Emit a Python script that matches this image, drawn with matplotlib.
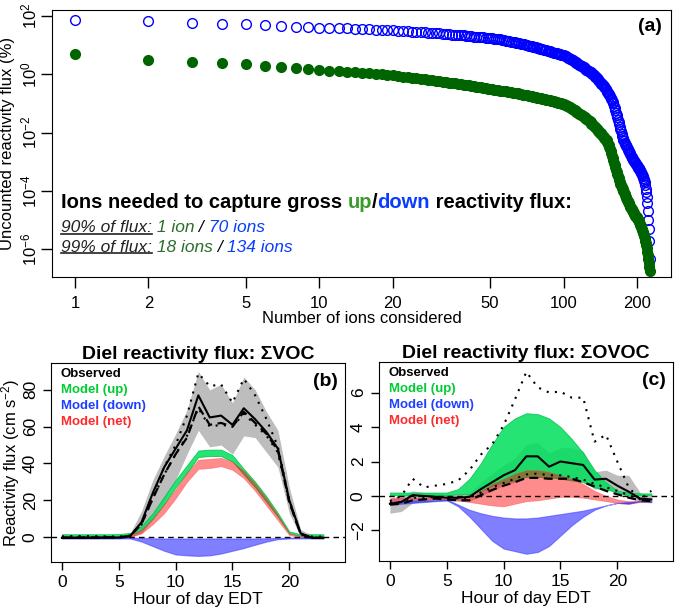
import numpy as np
import matplotlib
matplotlib.use('Agg')
import matplotlib.pyplot as plt
from matplotlib.lines import Line2D

plt.rcParams['font.family'] = ['Liberation Sans', 'DejaVu Sans']
plt.rcParams['mathtext.fontset'] = 'custom'
plt.rcParams['mathtext.rm'] = 'Liberation Sans'
plt.rcParams['mathtext.default'] = 'regular'

# ---- panel (a): uncounted flux (log10 of %) vs number of ions ----
up_log10_pct = [
    0.68, 0.47, 0.42, 0.37, 0.34, 0.28, 0.25, 0.20, 0.17, 0.15,
    0.12, 0.10, 0.08, 0.06, 0.04, 0.03, 0.01, 0.00, -0.02, -0.04,
    -0.06, -0.08, -0.10, -0.12, -0.14, -0.16, -0.18, -0.19, -0.21, -0.23,
    -0.24, -0.26, -0.27, -0.29, -0.30, -0.31, -0.33, -0.34, -0.36, -0.37,
    -0.38, -0.40, -0.41, -0.43, -0.44, -0.45, -0.47, -0.48, -0.50, -0.51,
    -0.52, -0.53, -0.54, -0.55, -0.56, -0.57, -0.58, -0.59, -0.60, -0.61,
    -0.62, -0.63, -0.64, -0.65, -0.66, -0.67, -0.68, -0.70, -0.71, -0.72,
    -0.73, -0.74, -0.75, -0.76, -0.77, -0.78, -0.79, -0.80, -0.81, -0.82,
    -0.83, -0.84, -0.85, -0.86, -0.87, -0.88, -0.89, -0.90, -0.91, -0.92,
    -0.93, -0.94, -0.95, -0.96, -0.97, -0.98, -0.99, -1.00, -1.01, -1.02,
    -1.04, -1.06, -1.08, -1.10, -1.12, -1.14, -1.16, -1.18, -1.20, -1.22,
    -1.24, -1.26, -1.28, -1.31, -1.33, -1.35, -1.37, -1.39, -1.41, -1.43,
    -1.46, -1.48, -1.50, -1.52, -1.55, -1.57, -1.60, -1.62, -1.65, -1.69,
    -1.72, -1.74, -1.77, -1.80, -1.82, -1.85, -1.88, -1.91, -1.94, -1.97,
    -2.00, -2.03, -2.06, -2.09, -2.12, -2.15, -2.18, -2.21, -2.24, -2.27,
    -2.32, -2.38, -2.44, -2.50, -2.57, -2.64, -2.71, -2.79, -2.87, -2.95,
    -3.03, -3.11, -3.19, -3.27, -3.35, -3.43, -3.50, -3.57, -3.63, -3.69,
    -3.75, -3.80, -3.85, -3.90, -3.95, -4.00,
    -4.05, -4.10, -4.15, -4.20, -4.25, -4.30, -4.34, -4.38, -4.42, -4.46,
    -4.50, -4.54, -4.58, -4.62, -4.66, -4.70, -4.73, -4.76, -4.79, -4.82,
    -4.85, -4.88,
    -4.91, -4.94, -4.97, -5.00, -5.04, -5.08, -5.12, -5.16, -5.20, -5.25,
    -5.30, -5.35, -5.40, -5.45, -5.50, -5.56, -5.62, -5.70, -5.78, -5.87,
    -5.97, -6.08, -6.20, -6.33, -6.47, -6.60, -6.75,
]
down_log10_pct = [
    1.86, 1.82, 1.76, 1.73, 1.71, 1.68, 1.66, 1.63, 1.62, 1.60,
    1.59, 1.58, 1.57, 1.56, 1.55, 1.54, 1.53, 1.52, 1.51, 1.50,
    1.49, 1.48, 1.47, 1.46, 1.45, 1.44, 1.43, 1.42, 1.42, 1.41,
    1.40, 1.39, 1.38, 1.37, 1.36, 1.35, 1.35, 1.34, 1.33, 1.32,
    1.31, 1.30, 1.29, 1.28, 1.28, 1.27, 1.26, 1.25, 1.25, 1.24,
    1.23, 1.22, 1.21, 1.20, 1.19, 1.18, 1.16, 1.15, 1.14, 1.13,
    1.12, 1.11, 1.09, 1.08, 1.07, 1.06, 1.04, 1.03, 1.02, 1.00,
    0.99, 0.98, 0.96, 0.95, 0.94, 0.93, 0.92, 0.90, 0.89, 0.88,
    0.87, 0.86, 0.84, 0.83, 0.82, 0.81, 0.80, 0.78, 0.77, 0.76,
    0.74, 0.73, 0.72, 0.71, 0.70, 0.69, 0.68, 0.67, 0.66, 0.65,
    0.63, 0.61, 0.59, 0.57, 0.55, 0.53, 0.51, 0.49, 0.47, 0.45,
    0.43, 0.41, 0.39, 0.37, 0.35, 0.33, 0.31, 0.29, 0.27, 0.25,
    0.23, 0.21, 0.19, 0.16, 0.14, 0.12, 0.10, 0.08, 0.06, 0.04,
    0.02, 0.00, -0.03, -0.05,
    -0.08, -0.11, -0.14, -0.17, -0.20, -0.23, -0.26, -0.29, -0.32, -0.35,
    -0.38, -0.41, -0.44, -0.48, -0.52, -0.56, -0.60, -0.64, -0.68, -0.72,
    -0.76, -0.80, -0.85, -0.90, -0.95, -1.00,
    -1.08, -1.16, -1.24, -1.32, -1.40, -1.48, -1.56, -1.64, -1.72, -1.80,
    -1.88, -1.96, -2.04, -2.12, -2.19, -2.25, -2.30, -2.35,
    -2.39, -2.43, -2.47, -2.51, -2.55, -2.59, -2.63, -2.67, -2.71, -2.75,
    -2.79, -2.83, -2.87, -2.90, -2.93, -2.96, -2.99, -3.02, -3.05, -3.08,
    -3.11, -3.14, -3.17, -3.20, -3.23, -3.26, -3.29, -3.32, -3.35, -3.38,
    -3.42, -3.46, -3.50, -3.55, -3.60, -3.65, -3.70,
    -3.80, -3.92, -4.05, -4.20, -4.40, -4.70, -5.00, -5.30, -5.70, -6.33,
]
a_xticks = [1, 2, 5, 10, 20, 50, 100, 200]
a_yticks = [2, 0, -2, -4, -6]

# ---- panels (b) and (c): diel reactivity flux ----
hours = list(range(24))

# (b) sum VOC
b_obs_solid = [-0.5, -0.5, -0.4, -0.4, -0.3, -0.3, 0.5, 8, 24, 38, 48, 58,
               77, 65, 66, 61, 70, 64, 57, 48, 20, 2, -0.5, -0.5]
b_obs_dot = [0.3, 0.5, 0.5, 0.4, 0.3, 0.2, 0.8, 7, 23, 38, 50, 66,
             89, 82, 83, 73, 86, 77, 64, 49, 20, 1.5, 0.2, 0.2]
b_obs_dash = [-0.3, -0.3, -0.3, -0.3, -0.2, -0.2, 0.5, 7, 21, 34, 45, 54,
              71, 61, 62, 60, 68, 62, 56, 47, 19, 1.5, -0.5, -0.5]
b_obs_dot2 = [-0.3, -0.3, -0.3, -0.3, -0.2, -0.2, 0.5, 7, 21, 34, 45, 55,
              70, 60, 61, 60, 67, 61, 55, 46, 19, 1.5, -0.5, -0.5]
b_gray_lo = [-1, -1, -1, -1, -1, -1, 0, 2, 10, 20, 31, 45,
             58, 49, 50, 45, 55, 54, 46, 38, 13, 0, -1, -1]
b_gray_hi = [1, 1, 1, 1, 1, 1, 2, 14, 31, 44, 56, 69,
             90, 80, 83, 73, 87, 80, 68, 58, 27, 4, 1, 1]
b_up_lo = [0.5, 0.5, 0.5, 0.5, 0.5, 0.6, 1.0, 4, 10, 18, 27, 35,
           43.5, 44, 44, 41, 34, 27, 19, 11, 2, 0.6, 0.5, 0.5]
b_up_hi = [1.5, 1.5, 1.5, 1.5, 1.5, 1.6, 2.2, 6, 13, 22, 31, 39,
           47, 47.5, 47.5, 44.5, 37, 30, 22, 13, 3, 1.5, 1.5, 1.5]
b_net_lo = [-0.3, -0.3, -0.3, -0.3, -0.3, -0.3, 0, 2, 7, 13, 21, 30,
            37, 37.5, 38.5, 36.5, 32, 25, 17, 9, 1, 0, -0.3, -0.3]
b_net_hi = [0.3, 0.3, 0.3, 0.3, 0.3, 0.3, 1, 4, 10, 18, 26, 35,
            42, 42.5, 43, 41, 36, 29, 21, 12, 2, 0.5, 0.3, 0.3]
b_down_lo = [-0.8, -0.8, -0.8, -0.8, -0.8, -0.8, -0.8, -2.5, -5, -7.5, -9.5, -10,
             -10.3, -10, -9, -7.5, -6, -4.2, -2.5, -1.2, -0.8, -0.8, -0.8, -0.8]
b_down_hi = [-0.3, -0.3, -0.3, -0.3, -0.3, -0.3, -0.3, -0.5, -0.7, -0.8, -0.8, -0.8,
             -0.8, -0.8, -0.8, -0.8, -0.8, -0.8, -0.7, -0.5, -0.3, -0.3, -0.3, -0.3]

# (c) sum OVOC
c_obs_solid = [-0.45, -0.35, 0.05, 0.0, -0.05, -0.1, -0.1, -0.05, 0.4, 0.8, 1.2, 1.5,
               2.3, 2.3, 1.7, 2.0, 1.9, 1.8, 0.95, 1.0, 0.6, 0.25, -0.15, -0.2]
c_obs_dot = [-0.3, 0.0, 1.0, 0.5, 0.6, 0.7, 0.9, 1.5, 2.4, 3.0, 4.1, 5.6,
             7.2, 6.3, 6.0, 6.05, 5.7, 5.7, 3.15, 3.55, 2.0, 0.5, -0.2, 0.3]
c_obs_dash = [-0.5, -0.45, -0.25, -0.2, -0.15, -0.2, -0.25, -0.25, 0.05, 0.35, 0.6, 0.8,
              1.05, 1.05, 1.0, 1.0, 1.0, 0.8, 0.55, 0.3, 0.1, -0.1, -0.25, -0.3]
c_obs_dot2 = [-0.4, -0.35, -0.1, -0.1, -0.05, -0.1, -0.15, -0.1, 0.2, 0.5, 0.75, 1.0,
              1.25, 1.3, 1.2, 1.2, 1.1, 0.95, 0.7, 0.5, 0.3, 0.05, -0.2, -0.25]
c_gray_lo = [-1.0, -0.9, -0.4, -0.35, -0.3, -0.3, -0.3, -0.3, 0.0, 0.3, 0.6, 0.8,
             1.2, 1.3, 1.0, 1.1, 1.0, 0.9, 0.4, 0.4, 0.2, -0.1, -0.35, -0.4]
c_gray_hi = [-0.1, 0.0, 0.3, 0.2, 0.15, 0.1, 0.1, 0.2, 0.8, 1.3, 1.8, 2.2,
             3.0, 3.1, 2.5, 2.8, 2.8, 2.6, 1.4, 1.5, 1.2, 1.2, 0.2, 0.0]
c_up_lo = [0.05, 0.05, 0.05, 0.05, 0.05, 0.05, 0.1, 0.1, 0.3, 0.6, 0.8, 0.9,
           1.1, 1.1, 1.1, 1.0, 0.9, 0.8, 0.5, 0.4, 0.2, 0.05, 0.05, 0.05]
c_up_hi = [0.2, 0.2, 0.2, 0.2, 0.2, 0.2, 0.4, 1.0, 1.9, 3.0, 4.0, 4.5,
           4.8, 4.75, 4.5, 4.0, 3.3, 2.5, 1.5, 0.8, 0.3, 0.2, 0.15, 0.15]
c_net_lo = [-0.3, -0.3, -0.2, -0.2, -0.2, -0.2, -0.25, -0.35, -0.45, -0.55, -0.6, -0.45,
            -0.3, -0.25, -0.15, -0.05, -0.05, -0.1, -0.2, -0.3, -0.4, -0.45, -0.35, -0.3]
c_net_hi = [-0.15, -0.1, -0.1, -0.1, -0.1, -0.15, -0.15, -0.1, 0.3, 0.7, 1.0, 1.3,
            1.5, 1.5, 1.4, 1.2, 1.0, 0.7, 0.3, 0.0, -0.2, -0.3, -0.3, -0.25]
c_down_lo = [-0.5, -0.45, -0.4, -0.35, -0.3, -0.25, -0.6, -1.2, -1.9, -2.6, -3.05, -3.2,
             -3.35, -3.25, -2.9, -2.3, -1.7, -1.2, -0.8, -0.55, -0.4, -0.45, -0.3, -0.35]
c_down_hi = [-0.35, -0.3, -0.25, -0.25, -0.25, -0.2, -0.5, -0.8, -1.0, -1.15, -1.25, -1.3,
             -1.3, -1.25, -1.15, -1.05, -0.95, -0.85, -0.7, -0.55, -0.4, -0.35, -0.3, -0.3]

legend_labels = ['Observed', 'Model (up)', 'Model (down)', 'Model (net)']
legend_colors = ['black', '#00cc33', '#1f3fff', '#ff2a2a']

W, H = 675, 610
fig = plt.figure(figsize=(W / 100, H / 100), dpi=100)


def box(l, t, r, b):
    return [l / W, 1 - b / H, (r - l) / W, (b - t) / H]


# ================= panel (a) =================
ax = fig.add_axes(box(52, 10, 671, 277))
n_up = np.arange(1, len(up_log10_pct) + 1)
n_down = np.arange(1, len(down_log10_pct) + 1)
ax.plot(n_down, 10 ** np.array(down_log10_pct), 'o', ms=7, mfc='none',
        mec='#0000ff', mew=1.0, ls='none')
ax.plot(n_up, 10 ** np.array(up_log10_pct), 'o', ms=7, mfc='#006400',
        mec='#006400', ls='none')
ax.set_xscale('log')
ax.set_yscale('log')
ax.set_xlim(10 ** -0.094, 10 ** 2.44)
ax.set_ylim(10 ** -6.95, 10 ** 2.2)
ax.set_xticks(a_xticks)
ax.set_xticklabels([str(v) for v in a_xticks])
ax.set_yticks([10.0 ** e for e in a_yticks])
ax.set_yticklabels(['$10^{%d}$' % e for e in a_yticks])
ax.minorticks_off()
ax.tick_params(axis='both', direction='out', length=8, width=1, labelsize=12)
ax.tick_params(axis='x', pad=6)
ax.tick_params(axis='y', pad=1)
for lab in ax.get_yticklabels():
    lab.set_rotation(90)
    lab.set_va('center')
ax.set_xlabel('Number of ions considered', fontsize=12, labelpad=0)
ax.set_ylabel('Uncounted reactivity flux (%)', fontsize=12)
ax.yaxis.set_label_coords((15 - 52) / 619, 0.5)
ax.text(0.985, 0.94, '(a)', transform=ax.transAxes, ha='right', va='center',
        fontsize=14, fontweight='bold')

# annotation lines
parts1 = [('Ions needed to capture gross ', 'black'), ('up', '#3a9a2a'),
          ('/', 'black'), ('down', '#0a3cff'), (' reactivity flux:', 'black')]
prev = ax.text(0.014, 0.26, parts1[0][0], transform=ax.transAxes, ha='left',
               va='baseline', fontsize=14.5, fontweight='bold', color=parts1[0][1])
for s, c in parts1[1:]:
    prev = ax.annotate(s, xy=(1, 0), xycoords=prev, ha='left', va='bottom',
                       fontsize=14.5, fontweight='bold', color=c)

underlined = []
for y, parts in [(0.168, [('90% of flux:', '#222222'), (' 1 ion', '#2a6e2a'),
                          (' / ', 'black'), ('70 ions', '#0a3cff')]),
                 (0.094, [('99% of flux:', '#222222'), (' 18 ions', '#2a6e2a'),
                          (' / ', 'black'), ('134 ions', '#0a3cff')])]:
    prev = ax.text(0.014, y, parts[0][0], transform=ax.transAxes, ha='left',
                   va='baseline', fontsize=12.5, style='italic', color=parts[0][1])
    underlined.append(prev)
    for s, c in parts[1:]:
        prev = ax.annotate(s, xy=(1, 0), xycoords=prev, ha='left', va='bottom',
                           fontsize=12.5, style='italic', color=c)

# ================= panels (b) and (c) =================
def diel_panel(rect, title, tag, obs, gray, up, net, down, ylim, yticks, ylabel=None):
    ax = fig.add_axes(rect)
    solid, dot, dash, dot2 = obs
    ax.fill_between(hours, gray[0], gray[1], color='#bdbdbd', lw=0)
    ax.fill_between(hours, up[0], up[1], color='#00e05a', alpha=0.85, lw=0.6,
                    edgecolor='#00c050')
    ax.fill_between(hours, net[0], net[1], color='#ff0000', alpha=0.45, lw=0.6,
                    edgecolor='#ff4040')
    ax.fill_between(hours, down[0], down[1], color='#0000ff', alpha=0.5, lw=0.8,
                    edgecolor='#3030ff')
    ax.axhline(0, color='black', lw=1, dashes=(4, 3))
    ax.plot(hours, dot, color='black', lw=1.5, dashes=(1, 3))
    ax.plot(hours, dash, color='black', lw=1.6, dashes=(4, 2.5))
    ax.plot(hours, dot2, color='black', lw=1.5, dashes=(1, 3))
    ax.plot(hours, solid, color='black', lw=1.5)
    ax.set_xlim(-0.96, 24.9)
    ax.set_ylim(*ylim)
    ax.set_xticks([0, 5, 10, 15, 20])
    ax.set_yticks(yticks)
    ax.tick_params(axis='both', direction='out', length=6, width=1, labelsize=12.5)
    for lab in ax.get_yticklabels():
        lab.set_rotation(90)
        lab.set_va('center')
    ax.set_xlabel('Hour of day EDT', fontsize=12.5, labelpad=1)
    if ylabel:
        ax.set_ylabel(ylabel, fontsize=12)
        ax.yaxis.set_label_coords((22 - 51) / 294, 0.5)
    ax.set_title(title, fontsize=14, fontweight='bold', pad=3)
    ax.text(0.975, 0.905, tag, transform=ax.transAxes, ha='right', va='center',
            fontsize=14, fontweight='bold')
    for i, (lab, col) in enumerate(zip(legend_labels, legend_colors)):
        ax.text(0.033, 0.945 - i * 0.08, lab, transform=ax.transAxes, ha='left',
                va='center', fontsize=9.5, fontweight='bold', color=col)
    return ax


diel_panel(box(51, 363, 345, 562), 'Diel reactivity flux: \u03a3VOC', '(b)',
           (b_obs_solid, b_obs_dot, b_obs_dash, b_obs_dot2),
           (b_gray_lo, b_gray_hi), (b_up_lo, b_up_hi), (b_net_lo, b_net_hi),
           (b_down_lo, b_down_hi), (-13.6, 94.6), [0, 20, 40, 60, 80],
           ylabel='Reactivity flux (cm s$^{-2}$)')
diel_panel(box(379, 362, 673, 561), 'Diel reactivity flux: \u03a3OVOC', '(c)',
           (c_obs_solid, c_obs_dot, c_obs_dash, c_obs_dot2),
           (c_gray_lo, c_gray_hi), (c_up_lo, c_up_hi), (c_net_lo, c_net_hi),
           (c_down_lo, c_down_hi), (-3.77, 7.77), [-2, 0, 2, 4, 6])

# underline the "xx% of flux:" labels
fig.canvas.draw()
renderer = fig.canvas.get_renderer()
inv = fig.transFigure.inverted()
for t in underlined:
    bb = t.get_window_extent(renderer)
    x0, y0 = inv.transform((bb.x0, bb.y0 + 1.5))
    x1, _ = inv.transform((bb.x1, bb.y0 + 1.5))
    fig.add_artist(Line2D([x0, x1], [y0, y0], color='#222222', lw=1.2,
                          transform=fig.transFigure))

fig.savefig('out.png', dpi=100)
